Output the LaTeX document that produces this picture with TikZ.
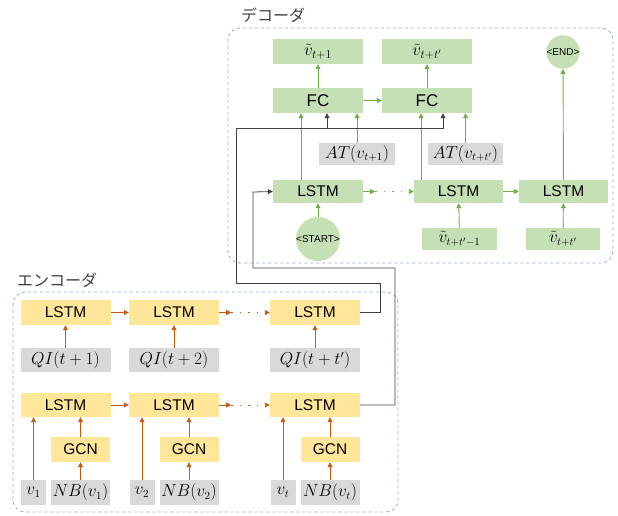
\documentclass[tikz,border=0pt]{standalone}
\usepackage{fontspec}
\setsansfont{Liberation Sans}
\newfontfamily\jpfont{Noto Sans CJK JP}
\usepackage{amsmath}
\usetikzlibrary{positioning, arrows.meta}

\definecolor{decfill}{HTML}{C5E0B4}
\definecolor{decline}{HTML}{70AD47}
\definecolor{encfill}{HTML}{FFE699}
\definecolor{encline}{HTML}{C55A11}
\definecolor{inpfill}{HTML}{D9D9D9}
\definecolor{framecol}{HTML}{8FAADC}
\definecolor{ctxcol}{HTML}{404040}

\tikzset{
    box/.style={inner sep=0pt, minimum width=90pt, minimum height=25pt, font=\sffamily\fontsize{15.5}{16}\selectfont},
    decbox/.style={box, fill=decfill},
    encbox/.style={box, fill=encfill},
    inbox/.style={inner sep=0pt, minimum height=24pt, fill=inpfill, font=\fontsize{16}{17}\selectfont},
    token/.style={circle, fill=decfill, inner sep=0pt, minimum size=32pt, font=\sffamily\fontsize{10}{11}\selectfont},
    tip/.style={-{Triangle[length=5pt, width=5pt]}},
    garr/.style={draw=decline, line width=0.9pt, tip},
    oarr/.style={draw=encline, line width=0.9pt, tip},
    dots/.style={dash pattern=on 1.5pt off 7pt},
    ctx/.style={draw=ctxcol, line width=0.8pt},
    frame/.style={draw=framecol, dashed, rounded corners=12pt, line width=0.8pt},
    title/.style={text=ctxcol, font=\jpfont\fontsize{16}{17}\selectfont}
}

\begin{document}
\begin{tikzpicture}[x=1pt, y=-1pt]
\useasboundingbox (0,0) rectangle (618,515);

% frames
\draw[frame] (228,28) rectangle (613,263);
\node[title] (dectitle) at (273,15) {デコーダ};
\draw[frame] (13,292) rectangle (398,512);
\node[title] (enctitle) at (57,280) {エンコーダ};

% decoder
\node[decbox, font=\fontsize{17}{18}\selectfont] (vt1) at (318,51.5) {$\tilde{v}_{t+1}$};
\node[decbox, font=\fontsize{17}{18}\selectfont] (vtt) at (427,51.5) {$\tilde{v}_{t+t'}$};
\node[token] (endc) at (563,52) {<END>};
\node[decbox, font=\sffamily\fontsize{17}{18}\selectfont] (fc1) at (318,100.5) {FC};
\node[decbox, font=\sffamily\fontsize{17}{18}\selectfont] (fc2) at (427,100.5) {FC};
\node[inbox, minimum width=76pt, minimum height=22pt] (at1) at (357,154) {$AT(v_{t+1})$};
\node[inbox, minimum width=75pt, minimum height=22pt] (at2) at (465.5,154) {$AT(v_{t+t'})$};
\node[decbox, minimum height=23pt] (dl1) at (318,191.5) {LSTM};
\node[decbox, minimum height=23pt, minimum width=89pt] (dl2) at (458.5,191.5) {LSTM};
\node[decbox, minimum height=23pt, minimum width=89pt] (dl3) at (563.5,191.5) {LSTM};
\node[token] (start) at (318,239) {<START>};
\node[decbox, minimum width=75pt, minimum height=22pt, font=\fontsize{16}{17}\selectfont] (in2) at (459.5,239) {$\tilde{v}_{t+t'-1}$};
\node[decbox, minimum width=74pt, minimum height=22pt, font=\fontsize{16}{17}\selectfont] (in3) at (563,239) {$\tilde{v}_{t+t'}$};

\draw[garr] (fc1) -- (vt1);
\draw[garr] (fc2) -- (vtt);
\draw[garr] (fc1) -- (fc2);
\draw[garr] (dl3) -- (endc);
\draw[garr] (start) -- (dl1);
\draw[garr] (in2) -- (dl2);
\draw[garr] (in3) -- (dl3);
\draw[garr] (at1) -- (at1 |- fc1.south);
\draw[garr] (at2) -- (at2 |- fc2.south);
\coordinate (f1a) at ([xshift=-17pt]fc1.south);
\coordinate (f2a) at ([xshift=-6pt]fc2.south);
\draw[garr] (f1a |- dl1.north) -- (f1a);
\draw[garr] (f2a |- dl2.north) -- (f2a);
\coordinate (d1m) at ([xshift=12pt]dl1.east);
\draw[garr] (dl1) -- (d1m);
\draw[garr, dots] (d1m) -- (dl2);
\draw[garr] (dl2) -- (dl3);

% encoder
\foreach \i/\x/\q/\v/\nb in {1/65.5/{QI(t+1)}/{v_1}/{NB(v_1)},
                             2/174/{QI(t+2)}/{v_2}/{NB(v_2)},
                             3/315/{QI(t+t')}/{v_t}/{NB(v_t)}} {
    \node[encbox] (e\i) at (\x,312.5) {LSTM};
    \node[inbox, minimum width=90pt] (q\i) at (\x,360) {$\q$};
    \node[encbox, minimum height=24pt] (b\i) at (\x,405) {LSTM};
    \node[encbox, minimum width=59pt] (g\i) at (\x+15,449.5) {GCN};
    \node[inbox, minimum width=59pt, minimum height=25pt] (nb\i) at (\x+15,492.5) {$\nb$};
    \node[inbox, minimum width=25pt, minimum height=25pt] (v\i) at (\x-32,492.5) {$\v$};
    \draw[oarr] (q\i) -- (e\i);
    \draw[oarr] (g\i) -- (g\i |- b\i.south);
    \draw[oarr] (nb\i) -- (g\i);
    \draw[oarr] (v\i) -- (v\i |- b\i.south);
}
\draw[oarr] (e1) -- (e2);
\draw[oarr] (b1) -- (b2);
\coordinate (e2m) at ([xshift=12pt]e2.east);
\coordinate (b2m) at ([xshift=12pt]b2.east);
\draw[oarr] (e2) -- (e2m);
\draw[oarr, dots] (e2m) -- (e3);
\draw[oarr] (b2) -- (b2m);
\draw[oarr, dots] (b2m) -- (b3);

% hand-over from encoder to decoder
\coordinate (k1) at (380,283);
\coordinate (k2) at (236,128);
\coordinate (k3) at (395,268);
\coordinate (k4) at (253,192);
\coordinate (f1b) at ([xshift=9pt]fc1.south);
\coordinate (f2b) at ([xshift=16pt]fc2.south);
\draw[ctx, tip] (e3.east) -| (k1) -| (k2) -| (f2b);
\draw[ctx, tip] (f1b |- k2) -- (f1b);
\draw[ctx, tip] (b3.east) -| (k3) -| (k4) -- (dl1.west);
\end{tikzpicture}
\end{document}
